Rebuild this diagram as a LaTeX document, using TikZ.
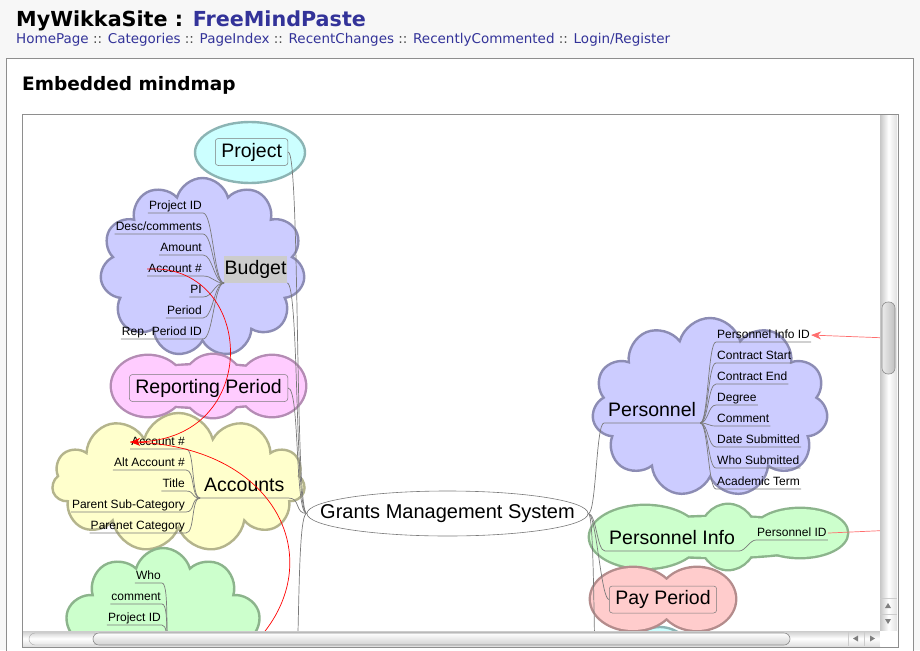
\documentclass[tikz,border=0pt]{standalone}
\usepackage{fontspec}
\setmainfont{Liberation Sans}
\newfontfamily\webfont{DejaVu Sans}
\usetikzlibrary{shapes.geometric,shapes.symbols,arrows.meta}

\definecolor{linkblue}{HTML}{333399}
\definecolor{pagebg}{HTML}{F7F7F7}
\definecolor{framegrey}{HTML}{8E8E8E}
\definecolor{edgegrey}{HTML}{7A7A7A}
\definecolor{lavfill}{HTML}{CCCCFF}
\definecolor{lavline}{HTML}{8C8CB4}
\definecolor{yelfill}{HTML}{FFFFCC}
\definecolor{yelline}{HTML}{B4B48C}
\definecolor{pinkfill}{HTML}{FFCCFF}
\definecolor{pinkline}{HTML}{B48CB4}
\definecolor{grnfill}{HTML}{CCFFCC}
\definecolor{grnline}{HTML}{8CB48C}
\definecolor{redfill}{HTML}{FFCCCC}
\definecolor{redline}{HTML}{B48C8C}
\definecolor{cyanfill}{HTML}{CCFFFF}
\definecolor{cyanline}{HTML}{8CB4B4}
\definecolor{selgrey}{HTML}{CCCCCC}
\definecolor{arrowred}{HTML}{FF0000}
\definecolor{softred}{HTML}{FF6E6E}

\begin{document}
\begin{tikzpicture}[x=1pt,y=-1pt,
  bubble/.style={cloud, cloud ignores aspect, line width=2.4pt, inner sep=0pt},
  rim/.style={line width=4.8pt},
  edge/.style={draw=edgegrey, line width=0.7pt},
  leaf/.style={font=\fontsize{12}{14}\selectfont, inner xsep=1pt, inner ysep=1pt, text height=9pt, text depth=2.5pt},
  topic/.style={font=\fontsize{19.5}{22}\selectfont, inner xsep=4pt, inner ysep=2pt, text height=14pt, text depth=4pt},
  boxed/.style={topic, draw=edgegrey, rounded corners=3pt, inner xsep=6pt, inner ysep=4.5pt, line width=0.5pt},
  link/.style={draw=arrowred, line width=0.7pt, -{Stealth[length=10pt,width=8pt]}}]
  \useasboundingbox (0,0) rectangle (920,650);

  % Page
  \fill[pagebg] (0,0) rectangle (920,650);
  \node[anchor=base west, inner sep=0pt, font=\webfont\bfseries\fontsize{20.7}{24}\selectfont] (sitename) at (16,27) {MyWikkaSite : \textcolor{linkblue}{FreeMindPaste}};
  \node[anchor=base west, inner sep=0pt, font=\webfont\fontsize{13.5}{16}\selectfont, text=linkblue] (menu) at (16,44) {HomePage \textcolor{black!70}{::} Categories \textcolor{black!70}{::} PageIndex \textcolor{black!70}{::} RecentChanges \textcolor{black!70}{::} RecentlyCommented \textcolor{black!70}{::} Login/Register};
  \draw[framegrey, fill=white] (6,58) rectangle (913,660);
  \node[anchor=base west, inner sep=0pt, font=\webfont\bfseries\fontsize{18.5}{22}\selectfont] (heading) at (22,91) {Embedded mindmap};

  % Applet
  \fill[white] (22,114.5) rectangle (898,647);
  \begin{scope}
  \clip (23,115) rectangle (880,631);

  % Clouds
  \node[ellipse, draw=cyanline, fill=cyanfill, line width=2.4pt, minimum width=110pt, minimum height=61pt, inner sep=0pt] (projectcloud) at (250,152.5) {};
  \node[bubble, draw=lavline, fill=lavfill, cloud puffs=11, minimum width=205pt, minimum height=179pt] (budgetcloud) at (202.5,267.5) {};
  \node[bubble, draw=yelline, fill=yelfill, cloud puffs=11, minimum width=253pt, minimum height=139pt] (accountscloud) at (178.5,482.5) {};
  \node[bubble, draw=grnline, fill=grnfill, cloud puffs=10, minimum width=200pt, minimum height=180pt] (commentcloud) at (163,638) {};
  \node[bubble, draw=lavline, fill=lavfill, cloud puffs=11, minimum width=236pt, minimum height=179pt] (personnelcloud) at (710,407.5) {};
  \node[bubble, draw=cyanline, fill=cyanfill, cloud puffs=6, minimum width=130pt, minimum height=70pt] (lowcloud) at (660,662) {};

  % Reporting Period cloud
  \foreach \cx/\cy/\rx/\ry in {148/386/36/30, 213/386/30/31, 272/386/33/30, 208/386/92/21}
    \draw[pinkline, rim] (\cx,\cy) ellipse [x radius=\rx pt, y radius=\ry pt];
  \foreach \cx/\cy/\rx/\ry in {148/386/36/30, 213/386/30/31, 272/386/33/30, 208/386/92/21}
    \fill[pinkfill] (\cx,\cy) ellipse [x radius=\rx pt, y radius=\ry pt];

  % Personnel Info cloud
  \foreach \cx/\cy/\rx/\ry in {645/537/55/31, 728/537/28/32, 800/533/47/24, 719/537/112/20}
    \draw[grnline, rim] (\cx,\cy) ellipse [x radius=\rx pt, y radius=\ry pt];
  \foreach \cx/\cy/\rx/\ry in {645/537/55/31, 728/537/28/32, 800/533/47/24, 719/537/112/20}
    \fill[grnfill] (\cx,\cy) ellipse [x radius=\rx pt, y radius=\ry pt];

  % Pay Period cloud
  \foreach \cx/\cy/\rx/\ry in {633/599/42/31, 697/599/38/31, 663/599/60/19}
    \draw[redline, rim] (\cx,\cy) ellipse [x radius=\rx pt, y radius=\ry pt];
  \foreach \cx/\cy/\rx/\ry in {633/599/42/31, 697/599/38/31, 663/599/60/19}
    \fill[redfill] (\cx,\cy) ellipse [x radius=\rx pt, y radius=\ry pt];

  % Central topic
  \node[ellipse, draw=edgegrey, fill=white, line width=0.6pt, minimum width=281pt, minimum height=45pt] (gms) at (447.5,513.5) {};
  \node[font=\fontsize{20}{24}\selectfont, inner sep=0pt] (gmstext) at (gms) {Grants Management System};

  % Left topics
  \node[boxed, anchor=west] (project) at (215,152) {Project};
  \node[topic, fill=selgrey, inner xsep=0.5pt, inner ysep=4.5pt, anchor=south west] (budget) at (224,283) {Budget};
  \node[boxed, anchor=east] (report) at (288,388) {Reporting Period};
  \node[topic, anchor=south west] (accounts) at (200,498) {Accounts};

  \node[leaf, anchor=south east] (bpid) at (203,213) {Project ID};
  \node[leaf, anchor=south east] (bdesc) at (203,234) {Desc/comments};
  \node[leaf, anchor=south east] (bamount) at (203,255) {Amount};
  \node[leaf, anchor=south east] (bacct) at (203,276) {Account \#};
  \node[leaf, anchor=south east] (bpi) at (203,297) {PI};
  \node[leaf, anchor=south east] (bperiod) at (203,318) {Period};
  \node[leaf, anchor=south east] (brep) at (203,339) {Rep. Period ID};

  \node[leaf, anchor=south east] (aacct) at (186,449) {Account \#};
  \node[leaf, anchor=south east] (aalt) at (186,470) {Alt Account \#};
  \node[leaf, anchor=south east] (atitle) at (186,491) {Title};
  \node[leaf, anchor=south east] (asub) at (186,512) {Parent Sub-Category};
  \node[leaf, anchor=south east] (aparent) at (186,533) {Parenet Category};

  \node[leaf, anchor=south east] (cwho) at (162,583) {Who};
  \node[leaf, anchor=south east] (ccomment) at (162,604) {comment};
  \node[leaf, anchor=south east] (cpid) at (162,625) {Project ID};

  % Right topics
  \node[topic, anchor=south west] (personnel) at (604,423) {Personnel};
  \node[leaf, anchor=south west] (pinfoid) at (716,342) {Personnel Info ID};
  \node[leaf, anchor=south west] (pstart) at (716,363) {Contract Start};
  \node[leaf, anchor=south west] (pend) at (716,384) {Contract End};
  \node[leaf, anchor=south west] (pdegree) at (716,405) {Degree};
  \node[leaf, anchor=south west] (pcomment) at (716,426) {Comment};
  \node[leaf, anchor=south west] (pdate) at (716,447) {Date Submitted};
  \node[leaf, anchor=south west] (pwho) at (716,468) {Who Submitted};
  \node[leaf, anchor=south west] (pterm) at (716,489) {Academic Term};

  \node[topic, anchor=south west] (pinfo) at (605,551) {Personnel Info};
  \node[leaf, anchor=south west] (pid) at (756,540) {Personnel ID};
  \node[boxed, anchor=west] (pay) at (609,599.5) {Pay Period};

  \coordinate (lowleft) at (290,720);
  \coordinate (lowright) at (600,720);
  \coordinate (commenttopic) at (172,668);
  \coordinate (linkend) at (150,700);
  \coordinate (rightsrc) at (940,340);
  \coordinate (rightdst) at (940,528);

  % Main branches
  \draw[edge] (gms.west) .. controls +(-12,0) and +(12,0) .. (project.east);
  \draw[edge] (gms.west) .. controls +(-12,0) and +(12,0) .. (budget.south east);
  \draw[edge] (gms.west) .. controls +(-12,0) and +(12,0) .. (report.east);
  \draw[edge] (accounts.south west) -- (accounts.south east) .. controls +(12,0) and +(-12,0) .. (gms.west);
  \draw[edge] (gms.west) .. controls +(-12,0) and +(12,0) .. (lowleft);
  \draw[edge] (gms.east) .. controls +(8,0) and +(-8,0) .. (personnel.south west) -- (personnel.south east);
  \draw[edge] (gms.east) .. controls +(8,0) and +(-8,0) .. (pinfo.south west) -- (pinfo.south east);
  \draw[edge] (gms.east) .. controls +(8,0) and +(-8,0) .. (pay.west);
  \draw[edge] (gms.east) .. controls +(8,0) and +(-8,0) .. (lowright);

  % Budget leaves
  \draw[edge] (bpid.south west) -- (bpid.south east) .. controls +(10,0) and +(-10,0) .. (budget.south west);
  \draw[edge] (bdesc.south west) -- (bdesc.south east) .. controls +(10,0) and +(-10,0) .. (budget.south west);
  \draw[edge] (bamount.south west) -- (bamount.south east) .. controls +(10,0) and +(-10,0) .. (budget.south west);
  \draw[edge] (bacct.south west) -- (bacct.south east) .. controls +(10,0) and +(-10,0) .. (budget.south west);
  \draw[edge] (bpi.south west) -- (bpi.south east) .. controls +(10,0) and +(-10,0) .. (budget.south west);
  \draw[edge] (bperiod.south west) -- (bperiod.south east) .. controls +(10,0) and +(-10,0) .. (budget.south west);
  \draw[edge] (brep.south west) -- (brep.south east) .. controls +(10,0) and +(-10,0) .. (budget.south west);

  % Accounts leaves
  \draw[edge] (aacct.south west) -- (aacct.south east) .. controls +(9,0) and +(-9,0) .. (accounts.south west);
  \draw[edge] (aalt.south west) -- (aalt.south east) .. controls +(9,0) and +(-9,0) .. (accounts.south west);
  \draw[edge] (atitle.south west) -- (atitle.south east) .. controls +(9,0) and +(-9,0) .. (accounts.south west);
  \draw[edge] (asub.south west) -- (asub.south east) .. controls +(9,0) and +(-9,0) .. (accounts.south west);
  \draw[edge] (aparent.south west) -- (aparent.south east) .. controls +(9,0) and +(-9,0) .. (accounts.south west);

  % Lower left leaves
  \draw[edge] (cwho.south west) -- (cwho.south east) .. controls +(9,0) and +(-9,0) .. (commenttopic);
  \draw[edge] (ccomment.south west) -- (ccomment.south east) .. controls +(9,0) and +(-9,0) .. (commenttopic);
  \draw[edge] (cpid.south west) -- (cpid.south east) .. controls +(9,0) and +(-9,0) .. (commenttopic);

  % Personnel leaves
  \draw[edge] (personnel.south east) .. controls +(8,0) and +(-8,0) .. (pinfoid.south west) -- (pinfoid.south east);
  \draw[edge] (personnel.south east) .. controls +(8,0) and +(-8,0) .. (pstart.south west) -- (pstart.south east);
  \draw[edge] (personnel.south east) .. controls +(8,0) and +(-8,0) .. (pend.south west) -- (pend.south east);
  \draw[edge] (personnel.south east) .. controls +(8,0) and +(-8,0) .. (pdegree.south west) -- (pdegree.south east);
  \draw[edge] (personnel.south east) .. controls +(8,0) and +(-8,0) .. (pcomment.south west) -- (pcomment.south east);
  \draw[edge] (personnel.south east) .. controls +(8,0) and +(-8,0) .. (pdate.south west) -- (pdate.south east);
  \draw[edge] (personnel.south east) .. controls +(8,0) and +(-8,0) .. (pwho.south west) -- (pwho.south east);
  \draw[edge] (personnel.south east) .. controls +(8,0) and +(-8,0) .. (pterm.south west) -- (pterm.south east);
  \draw[edge] (pinfo.south east) .. controls +(6,0) and +(-6,0) .. (pid.south west) -- (pid.south east);

  % Arrow links
  \draw[link] (bacct.west) .. controls (255,262) and (265,440) .. (aacct.west);
  \draw[link] (aacct.west) .. controls (320,445) and (355,640) .. (linkend);
  \draw[link, draw=softred] (rightsrc) -- (pinfoid.east);
  \draw[draw=softred, line width=0.7pt] (pid.east) -- (rightdst);
  \end{scope}

  % Scrollbars
  \shade[left color=black!22, right color=black!12, middle color=white] (880,115) rectangle (897,631);
  \draw[black!45, line width=0.6pt, left color=black!8, right color=black!25, rounded corners=6pt] (882,302) rectangle (895,374);
  \draw[black!20] (880,598) -- (897,598);
  \draw[black!20] (880,614) -- (897,614);
  \fill[black!50] (888,603) -- (885,608) -- (891,608) -- cycle;
  \fill[black!50] (885,619) -- (891,619) -- (888,624) -- cycle;
  \shade[top color=black!20, bottom color=black!12, middle color=white] (23,631) rectangle (880,646);
  \draw[black!35, rounded corners=6pt] (29,633) rectangle (100,645);
  \draw[black!45, line width=0.6pt, top color=white, bottom color=black!18, rounded corners=6pt] (93,633) rectangle (790,645);
  \draw[black!20] (848,631) -- (848,646);
  \draw[black!20] (864,631) -- (864,646);
  \fill[black!50] (853,638.5) -- (858,635.5) -- (858,641.5) -- cycle;
  \fill[black!50] (875,638.5) -- (870,635.5) -- (870,641.5) -- cycle;
  \fill[white] (880,631) rectangle (897,646);
  \draw[framegrey] (22,114.5) rectangle (898,647);
\end{tikzpicture}
\end{document}
